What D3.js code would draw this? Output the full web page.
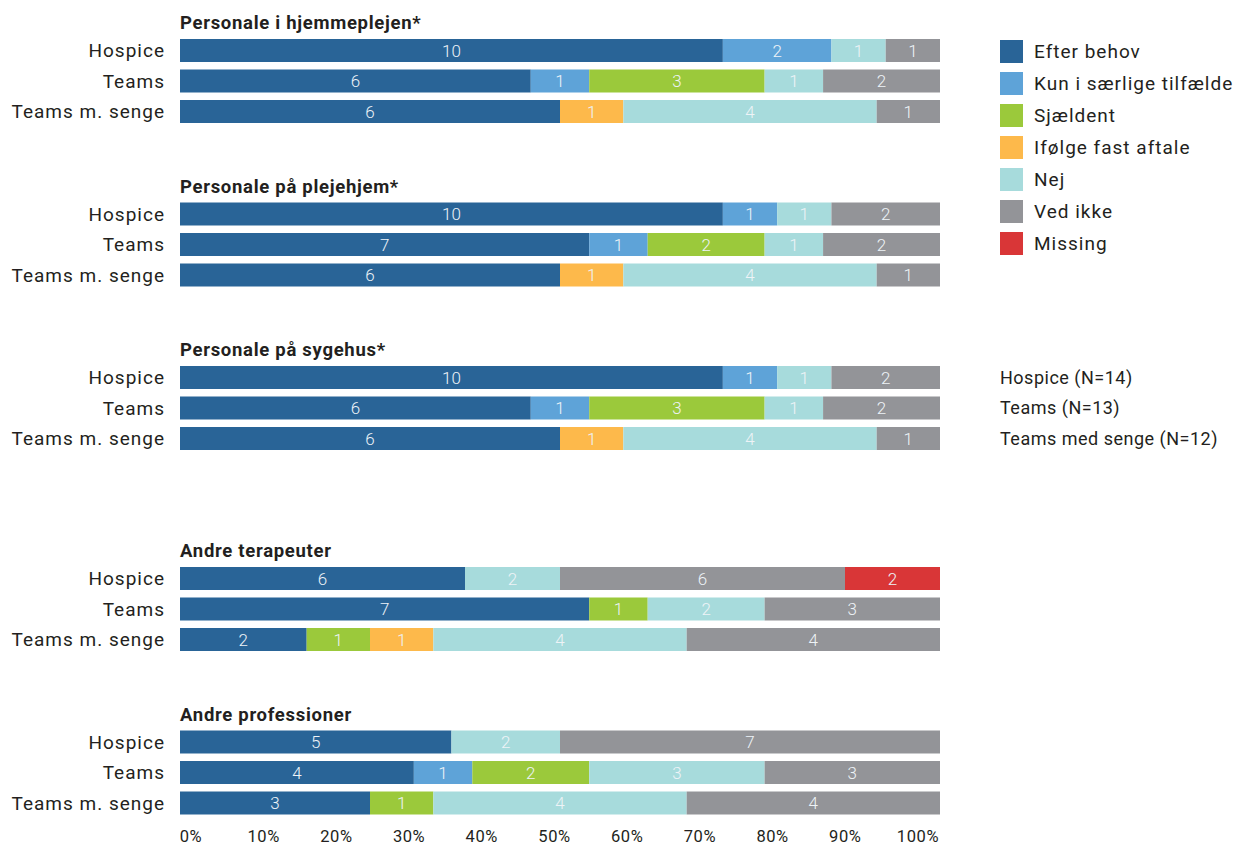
<!DOCTYPE html>
<html>
<head>
<meta charset="utf-8">
<script src="https://cdn.jsdelivr.net/npm/d3@7"></script>
<style>
  body { margin: 0; background: #fff; }
  svg { font-family: Roboto, "DejaVu Sans", sans-serif; }
</style>
</head>
<body>
<svg width="1238" height="846"></svg>
<script>
// categories (answers)
let answers = ["Efter behov", "Kun i særlige tilfælde", "Sjældent", "Ifølge fast aftale", "Nej", "Ved ikke", "Missing"]
let colors = ["#296497", "#5ea3d8", "#9bc93b", "#fdb94b", "#a7dbdc", "#939498", "#d93637"]

let rows = ["Hospice", "Teams", "Teams m. senge"]
let groups = ["Personale i hjemmeplejen*", "Personale på plejehjem*", "Personale på sygehus*", "Andre terapeuter", "Andre professioner"]

// counts per answer, one array per group, one row per unit
let hjemmepleje = [
  [10, 2, 0, 0, 1, 1, 0],
  [6, 1, 3, 0, 1, 2, 0],
  [6, 0, 0, 1, 4, 1, 0]
]
let plejehjem = [
  [10, 1, 0, 0, 1, 2, 0],
  [7, 1, 2, 0, 1, 2, 0],
  [6, 0, 0, 1, 4, 1, 0]
]
let sygehus = [
  [10, 1, 0, 0, 1, 2, 0],
  [6, 1, 3, 0, 1, 2, 0],
  [6, 0, 0, 1, 4, 1, 0]
]
let terapeuter = [
  [6, 0, 0, 0, 2, 6, 2],
  [7, 0, 1, 0, 2, 3, 0],
  [2, 0, 1, 1, 4, 4, 0]
]
let professioner = [
  [5, 0, 0, 0, 2, 7, 0],
  [4, 1, 2, 0, 3, 3, 0],
  [3, 0, 1, 0, 4, 4, 0]
]
let groupData = [hjemmepleje, plejehjem, sygehus, terapeuter, professioner]

let notes = ["Hospice (N=14)", "Teams (N=13)", "Teams med senge (N=12)"]
let ticks = [0, 10, 20, 30, 40, 50, 60, 70, 80, 90, 100]

let svg = d3.select("svg")

let x = d3.scaleLinear().domain([0, 1]).range([180, 940])
let rowY = d3.scaleBand().domain(rows).range([39, 123]).paddingInner(0.246).paddingOuter(0)
let groupOffset = gi => gi * 163.5 + (gi >= 3 ? 37.5 : 0)
let color = d3.scaleOrdinal().domain(answers).range(colors)

groupData.forEach((rowsData, gi) => {
  let g = svg.append("g").attr("transform", `translate(0,${groupOffset(gi)})`)

  g.append("text")
    .attr("x", 180)
    .attr("y", rowY(rows[0]) - 10)
    .style("font-size", "18.5px")
    .style("font-weight", "bold")
    .style("letter-spacing", "0.7px")
    .style("fill", "#231f20")
    .text(groups[gi])

  rowsData.forEach((counts, ri) => {
    let total = d3.sum(counts)
    let cum = 0
    let segs = counts.map((v, ai) => {
      let s = { answer: answers[ai], value: v, start: cum / total, end: (cum + v) / total }
      cum += v
      return s
    }).filter(s => s.value > 0)

    let y = rowY(rows[ri])

    g.append("text")
      .attr("x", 165)
      .attr("y", y + rowY.bandwidth() / 2)
      .attr("dy", "0.35em")
      .attr("text-anchor", "end")
      .style("font-size", "19px")
      .style("letter-spacing", "1px")
      .style("fill", "#231f20")
      .text(rows[ri])

    g.selectAll(null)
      .data(segs)
      .enter()
      .append("rect")
      .attr("x", d => x(d.start))
      .attr("y", y)
      .attr("width", d => x(d.end) - x(d.start))
      .attr("height", rowY.bandwidth())
      .style("fill", d => color(d.answer))

    g.selectAll(null)
      .data(segs)
      .enter()
      .append("text")
      .attr("x", d => (x(d.start) + x(d.end)) / 2)
      .attr("y", y + rowY.bandwidth() / 2)
      .attr("dy", "0.36em")
      .attr("text-anchor", "middle")
      .style("font-size", "17px")
      .style("font-weight", "300")
      .style("fill", "#eef3f7")
      .text(d => d.value)
  })
})

// x axis labels
let tickX = d3.scaleLinear().domain([0, 100]).range([x(0) + 11, x(1) - 22])
svg.selectAll(".tick-label")
  .data(ticks)
  .enter()
  .append("text")
  .attr("class", "tick-label")
  .attr("x", d => tickX(d))
  .attr("y", 836)
  .attr("dy", "0.35em")
  .attr("text-anchor", "middle")
  .style("font-size", "16.5px")
  .style("letter-spacing", "0.6px")
  .style("fill", "#231f20")
  .text(d => d + "%")

// legend
let legend = svg.append("g").attr("transform", "translate(1000,40)")
answers.forEach((a, i) => {
  legend.append("rect")
    .attr("x", 0)
    .attr("y", i * 32)
    .attr("width", 23)
    .attr("height", 23)
    .style("fill", color(a))
  legend.append("text")
    .attr("x", 34)
    .attr("y", i * 32 + 11.5)
    .attr("dy", "0.35em")
    .style("font-size", "19px")
    .style("letter-spacing", "1px")
    .style("fill", "#231f20")
    .text(a)
})

// N notes next to group 3
notes.forEach((n, i) => {
  svg.append("text")
    .attr("x", 1000)
    .attr("y", groupOffset(2) + rowY(rows[i]) + rowY.bandwidth() / 2)
    .attr("dy", "0.35em")
    .style("font-size", "18px")
    .style("letter-spacing", "0.5px")
    .style("fill", "#231f20")
    .text(n)
})
</script>
</body>
</html>
